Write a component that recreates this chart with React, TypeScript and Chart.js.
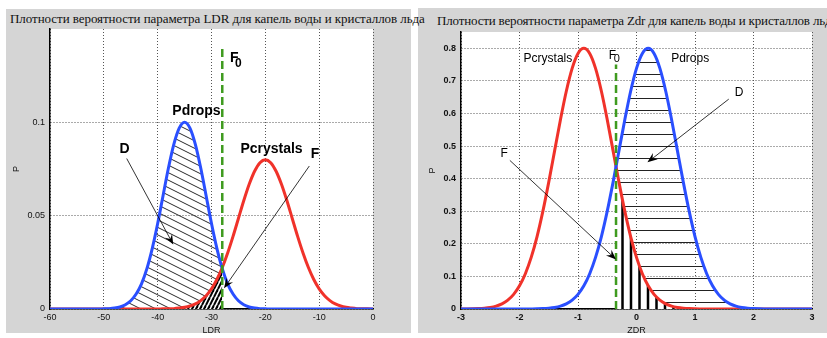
import React, { useEffect, useRef } from "react";
import { Chart, registerables } from "chart.js";

Chart.register(...registerables);

// ---------- LDR panel data ----------
const ldrX = [
  -60, -59, -58, -57, -56, -55, -54, -53, -52, -51,
  -50, -49, -48, -47, -46, -45, -44, -43, -42, -41,
  -40, -39, -38, -37, -36, -35, -34, -33, -32, -31,
  -30, -29, -28, -27, -26, -25, -24, -23, -22, -21,
  -20, -19, -18, -17, -16, -15, -14, -13, -12, -11,
  -10, -9, -8, -7, -6, -5, -4, -3, -2, -1, 0,
];
const ldrDrops = [
  0, 0, 0, 0, 0, 0, 0, 0, 0, 0,
  0.0001, 0.0002, 0.0005, 0.0011, 0.0023, 0.0044, 0.008, 0.0135, 0.0216, 0.0325,
  0.0458, 0.0607, 0.0755, 0.0882, 0.0969, 0.1, 0.0969, 0.0882, 0.0755, 0.0607,
  0.0458, 0.0325, 0.0216, 0.0135, 0.008, 0.0044, 0.0023, 0.0011, 0.0005, 0.0002,
  0.0001, 0, 0, 0, 0, 0, 0, 0, 0, 0,
  0, 0, 0, 0, 0, 0, 0, 0, 0, 0, 0,
];
const ldrCrystals = [
  0, 0, 0, 0, 0, 0, 0, 0, 0, 0,
  0, 0, 0, 0, 0, 0, 0, 0, 0, 0,
  0, 0.0001, 0.0001, 0.0002, 0.0005, 0.0009, 0.0016, 0.0027, 0.0045, 0.0071,
  0.0108, 0.0158, 0.0222, 0.03, 0.0389, 0.0485, 0.0581, 0.0668, 0.0738, 0.0784,
  0.08, 0.0784, 0.0738, 0.0668, 0.0581, 0.0485, 0.0389, 0.03, 0.0222, 0.0158,
  0.0108, 0.0071, 0.0045, 0.0027, 0.0016, 0.0009, 0.0005, 0.0002, 0.0001, 0.0001, 0,
];
const ldrF0 = -28;
const ldrF0Top = 0.1405;
const ldrXTicks = [-60, -50, -40, -30, -20, -10, 0];
const ldrYTicks = [0, 0.05, 0.1];

// ---------- ZDR panel data ----------
const zdrX = [
  -3, -2.9, -2.8, -2.7, -2.6, -2.5, -2.4, -2.3, -2.2, -2.1,
  -2, -1.9, -1.8, -1.7, -1.6, -1.5, -1.4, -1.3, -1.2, -1.1,
  -1, -0.9, -0.8, -0.7, -0.6, -0.5, -0.4, -0.35, -0.3, -0.2, -0.1,
  0, 0.1, 0.2, 0.3, 0.4, 0.5, 0.6, 0.7, 0.8, 0.9,
  1, 1.1, 1.2, 1.3, 1.4, 1.5, 1.6, 1.7, 1.8, 1.9,
  2, 2.1, 2.2, 2.3, 2.4, 2.5, 2.6, 2.7, 2.8, 2.9, 3,
];
const zdrCrystals = [
  0.0001, 0.0003, 0.0006, 0.0012, 0.0025, 0.0048, 0.0089, 0.0159, 0.0272, 0.0449,
  0.0711, 0.1083, 0.1583, 0.2224, 0.3003, 0.3894, 0.4852, 0.5809, 0.6683, 0.7385,
  0.7842, 0.8, 0.7842, 0.7385, 0.6683, 0.5809, 0.4852, 0.4369, 0.3894, 0.3003, 0.2224,
  0.1583, 0.1083, 0.0711, 0.0449, 0.0272, 0.0159, 0.0089, 0.0048, 0.0025, 0.0012,
  0.0006, 0.0003, 0.0001, 0, 0, 0, 0, 0, 0, 0,
  0, 0, 0, 0, 0, 0, 0, 0, 0, 0, 0,
];
const zdrDrops = [
  0, 0, 0, 0, 0, 0, 0, 0, 0, 0,
  0, 0.0001, 0.0003, 0.0006, 0.0012, 0.0025, 0.0048, 0.0089, 0.0159, 0.0272,
  0.0449, 0.0711, 0.1083, 0.1583, 0.2224, 0.3003, 0.3894, 0.4369, 0.4852, 0.5809, 0.6683,
  0.7385, 0.7842, 0.8, 0.7842, 0.7385, 0.6683, 0.5809, 0.4852, 0.3894, 0.3003,
  0.2224, 0.1583, 0.1083, 0.0711, 0.0449, 0.0272, 0.0159, 0.0089, 0.0048, 0.0025,
  0.0012, 0.0006, 0.0003, 0.0001, 0, 0, 0, 0, 0, 0, 0,
];
const zdrF0 = -0.35;
const zdrF0Top = 0.75;
const zdrXTicks = [-3, -2, -1, 0, 1, 2, 3];
const zdrYTicks = [0, 0.1, 0.2, 0.3, 0.4, 0.5, 0.6, 0.7, 0.8];

// ---------- styles ----------
const SANS = '"Liberation Sans", Arial, Helvetica, sans-serif';
const SERIF = '"Liberation Serif", "Times New Roman", serif';
const GRAY = "#d5d5d5";
const BLUE = "#2a4fff";
const RED = "#f0322a";
const GREEN = "#3f9b1f";

type Txt = { t: string; x: number; y: number; font: string; align?: CanvasTextAlign; base?: CanvasTextBaseline };
type Arw = { x1: number; y1: number; x2: number; y2: number };
type Spec = { texts: Txt[]; arrows: Arw[]; xTitle: string; yTitle: string; yTitleOff: number; xTitleOff: number };

function pts(xs: number[], ys: number[], keep?: (x: number) => boolean) {
  return xs.map((x, i) => ({ x, y: ys[i] })).filter((p) => !keep || keep(p.x));
}

function tile(w: number, h: number, bg: string | null, draw: (g: CanvasRenderingContext2D) => void) {
  const c = document.createElement("canvas");
  c.width = w;
  c.height = h;
  const g = c.getContext("2d")!;
  if (bg) {
    g.fillStyle = bg;
    g.fillRect(0, 0, w, h);
  }
  draw(g);
  return c;
}

function pattern(ctx: CanvasRenderingContext2D, t: HTMLCanvasElement, dx = 0, dy = 0) {
  const p = ctx.createPattern(t, "repeat")!;
  if ((dx || dy) && (p as any).setTransform) p.setTransform(new DOMMatrix().translate(dx, dy));
  return p;
}

function annotate(spec: Spec) {
  return {
    id: "ann",
    beforeDraw(chart: any) {
      const { ctx, chartArea: a } = chart;
      ctx.save();
      ctx.fillStyle = "#fff";
      ctx.fillRect(a.left, a.top, a.right - a.left, a.bottom - a.top);
      ctx.restore();
    },
    afterDatasetsDraw(chart: any) {
      const { ctx, chartArea: a } = chart;
      const xs = chart.scales.x;
      const ys = chart.scales.y;
      ctx.save();
      ctx.fillStyle = "#000";
      ctx.strokeStyle = "#000";
      for (const r of spec.arrows) {
        const x1 = xs.getPixelForValue(r.x1), y1 = ys.getPixelForValue(r.y1);
        const x2 = xs.getPixelForValue(r.x2), y2 = ys.getPixelForValue(r.y2);
        const ang = Math.atan2(y2 - y1, x2 - x1);
        const ux = Math.cos(ang), uy = Math.sin(ang);
        ctx.lineWidth = 0.8;
        ctx.beginPath();
        ctx.moveTo(x1, y1);
        ctx.lineTo(x2 - ux * 6, y2 - uy * 6);
        ctx.stroke();
        const L = 10, W = 4, N = 6.5;
        ctx.beginPath();
        ctx.moveTo(x2, y2);
        ctx.lineTo(x2 - ux * L - uy * W, y2 - uy * L + ux * W);
        ctx.lineTo(x2 - ux * N, y2 - uy * N);
        ctx.lineTo(x2 - ux * L + uy * W, y2 - uy * L - ux * W);
        ctx.closePath();
        ctx.fill();
      }
      for (const t of spec.texts) {
        ctx.font = t.font;
        ctx.textAlign = t.align || "center";
        ctx.textBaseline = t.base || "middle";
        ctx.fillText(t.t, xs.getPixelForValue(t.x), ys.getPixelForValue(t.y));
      }
      ctx.font = `9px ${SANS}`;
      ctx.fillStyle = "#111";
      ctx.textAlign = "center";
      ctx.textBaseline = "middle";
      ctx.fillText(spec.xTitle, (a.left + a.right) / 2, a.bottom + spec.xTitleOff);
      ctx.translate(a.left - spec.yTitleOff, (a.top + a.bottom) / 2);
      ctx.rotate(-Math.PI / 2);
      ctx.fillText(spec.yTitle, 0, 0);
      ctx.restore();
    },
  };
}

function axes(xmin: number, xmax: number, xt: number[], ymax: number, yt: number[], yw: number, bold: boolean) {
  const tickFont = { family: SANS, size: 9, weight: bold ? "bold" : "normal" } as any;
  const grid = { color: "#555", lineWidth: 1, drawTicks: false };
  const border = { display: true, color: "#000", width: 1.5, dash: [1, 2] };
  return {
    x: {
      type: "linear",
      min: xmin,
      max: xmax,
      afterBuildTicks: (s: any) => {
        s.ticks = xt.map((v) => ({ value: v }));
      },
      afterFit: (s: any) => {
        s.height = 29;
      },
      grid,
      border,
      ticks: { padding: 3, color: "#111", font: tickFont, maxRotation: 0, autoSkip: false, callback: (v: any) => String(v) },
    },
    y: {
      type: "linear",
      min: 0,
      max: ymax,
      afterBuildTicks: (s: any) => {
        s.ticks = yt.map((v) => ({ value: v }));
      },
      afterFit: (s: any) => {
        s.width = yw;
      },
      grid,
      border,
      ticks: { padding: 5, color: "#111", font: tickFont, autoSkip: false, callback: (v: any) => String(v) },
    },
  };
}

function curve(label: string, data: any[], color: string, order: number) {
  return {
    label,
    data,
    borderColor: color,
    borderWidth: 3,
    pointRadius: 0,
    fill: false,
    cubicInterpolationMode: "monotone",
    order,
  };
}

function region(label: string, data: any[], bg: any, order: number) {
  return {
    label,
    data,
    borderColor: "rgba(0,0,0,0)",
    borderWidth: 1,
    backgroundColor: bg,
    pointRadius: 0,
    fill: "origin",
    cubicInterpolationMode: "monotone",
    order,
  };
}

function green(x: number, top: number) {
  return {
    label: "F0",
    data: [
      { x, y: 0 },
      { x, y: top },
    ],
    borderColor: GREEN,
    borderWidth: 2.5,
    borderDash: [8, 4],
    pointRadius: 0,
    fill: false,
    order: 1,
  };
}

function buildLdr(canvas: HTMLCanvasElement) {
  const ctx = canvas.getContext("2d")!;
  const diag = tile(30, 15, null, (g) => {
    g.strokeStyle = "#111";
    g.lineWidth = 0.9;
    for (const c of [-15, -7.5, 0, 7.5, 15]) {
      g.beginPath();
      g.moveTo(-10, -5 + c);
      g.lineTo(40, 20 + c);
      g.stroke();
    }
  });
  const dense = tile(4, 8, "#fff", (g) => {
    g.strokeStyle = "#000";
    g.lineWidth = 2;
    for (const x0 of [-4, 0, 4]) {
      g.beginPath();
      g.moveTo(x0, 8);
      g.lineTo(x0 + 4, 0);
      g.stroke();
    }
  });
  const spec: Spec = {
    texts: [
      { t: "Pdrops", x: -32.8, y: 0.1058, font: `bold 14px ${SANS}` },
      { t: "Pcrystals", x: -18.85, y: 0.0856, font: `bold 14px ${SANS}` },
      { t: "D", x: -46.16, y: 0.0859, font: `bold 14px ${SANS}` },
      { t: "F", x: -10.77, y: 0.0829, font: `bold 14px ${SANS}` },
      { t: "F", x: -26.56, y: 0.1323, font: `bold 14px ${SANS}`, align: "left", base: "alphabetic" },
      { t: "0", x: -25.63, y: 0.1298, font: `bold 12px ${SANS}`, align: "left", base: "alphabetic" },
    ],
    arrows: [
      { x1: -45.75, y1: 0.0806, x2: -37.1, y2: 0.0345 },
      { x1: -11.83, y1: 0.0766, x2: -27.68, y2: 0.0111 },
    ],
    xTitle: "LDR",
    yTitle: "P",
    xTitleOff: 21.5,
    yTitleOff: 33,
  };
  return new Chart(canvas, {
    type: "line",
    data: {
      datasets: [
        region("D", pts(ldrX, ldrDrops, (x) => x <= ldrF0), pattern(ctx, diag), 10),
        region("F", pts(ldrX, ldrCrystals, (x) => x <= ldrF0), pattern(ctx, dense), 9),
        curve("Pcrystals", pts(ldrX, ldrCrystals), RED, 3),
        curve("Pdrops", pts(ldrX, ldrDrops), BLUE, 2),
        green(ldrF0, ldrF0Top),
      ] as any,
    },
    options: {
      animation: false,
      responsive: false,
      devicePixelRatio: 1,
      layout: { padding: { left: 0, top: 20, right: 38, bottom: 0 } },
      plugins: { legend: { display: false }, tooltip: { enabled: false }, title: { display: false } },
      scales: axes(-60, 0, ldrXTicks, 0.15, ldrYTicks, 44, false) as any,
    },
    plugins: [annotate(spec) as any],
  });
}

function buildZdr(canvas: HTMLCanvasElement) {
  const ctx = canvas.getContext("2d")!;
  const horiz = tile(4, 12, null, (g) => {
    g.fillStyle = "#222";
    g.fillRect(0, 6, 4, 1);
  });
  const vert = tile(17, 4, "#fff", (g) => {
    g.fillStyle = "#000";
    g.fillRect(0, 0, 1.75, 4);
    g.fillRect(7.75, 0, 2.5, 4);
    g.fillRect(16.25, 0, 0.75, 4);
  });
  const spec: Spec = {
    texts: [
      { t: "Pcrystals", x: -1.514, y: 0.767, font: `12px ${SANS}` },
      { t: "Pdrops", x: 0.918, y: 0.768, font: `12px ${SANS}` },
      { t: "D", x: 1.755, y: 0.664, font: `12px ${SANS}` },
      { t: "F", x: -2.26, y: 0.477, font: `12px ${SANS}` },
      { t: "F", x: -0.476, y: 0.7667, font: `12px ${SANS}`, align: "left", base: "alphabetic" },
      { t: "0", x: -0.391, y: 0.7593, font: `11px ${SANS}`, align: "left", base: "alphabetic" },
    ],
    arrows: [
      { x1: 1.577, y1: 0.644, x2: 0.187, y2: 0.45 },
      { x1: -2.165, y1: 0.456, x2: -0.35, y2: 0.152 },
    ],
    xTitle: "ZDR",
    yTitle: "P",
    xTitleOff: 22,
    yTitleOff: 28,
  };
  return new Chart(canvas, {
    type: "line",
    data: {
      datasets: [
        region("D", pts(zdrX, zdrDrops, (x) => x >= zdrF0), pattern(ctx, horiz), 10),
        region("F", pts(zdrX, zdrCrystals, (x) => x >= zdrF0), pattern(ctx, vert), 9),
        curve("Pcrystals", pts(zdrX, zdrCrystals), RED, 3),
        curve("Pdrops", pts(zdrX, zdrDrops), BLUE, 2),
        green(zdrF0, zdrF0Top),
      ] as any,
    },
    options: {
      animation: false,
      responsive: false,
      devicePixelRatio: 1,
      layout: { padding: { left: 0, top: 24, right: 15, bottom: 0 } },
      plugins: { legend: { display: false }, tooltip: { enabled: false }, title: { display: false } },
      scales: axes(-3, 3, zdrXTicks, 0.85, zdrYTicks, 43, true) as any,
    },
    plugins: [annotate(spec) as any],
  });
}

function Plot(props: { build: (c: HTMLCanvasElement) => Chart; left: number; top: number; width: number; height: number }) {
  const ref = useRef<HTMLCanvasElement>(null);
  useEffect(() => {
    const chart = props.build(ref.current!);
    return () => chart.destroy();
  }, []);
  return (
    <canvas
      ref={ref}
      width={props.width}
      height={props.height}
      style={{ position: "absolute", left: props.left, top: props.top, width: props.width, height: props.height }}
    />
  );
}

const titleStyle = (left: number, top: number, spacing: number): React.CSSProperties => ({
  position: "absolute",
  left,
  top,
  fontFamily: SERIF,
  fontSize: 13,
  lineHeight: "13px",
  letterSpacing: spacing,
  whiteSpace: "nowrap",
  color: "#111",
});

export default function App() {
  return (
    <div style={{ position: "fixed", left: 0, top: 0, width: 827, height: 338, overflow: "hidden", background: "#fff" }}>
      <div style={{ position: "absolute", left: 6, top: 9, width: 405, height: 324, background: GRAY }} />
      <div style={{ position: "absolute", left: 418, top: 8, width: 409, height: 325, background: GRAY }} />
      <div style={titleStyle(10, 12, -0.06)}>Плотности вероятности параметра LDR для капель воды и кристаллов льда</div>
      <div style={titleStyle(437, 14, -0.17)}>Плотности вероятности параметра Zdr для капель воды и кристаллов льда</div>
      <Plot build={buildLdr} left={6} top={9} width={405} height={329} />
      <Plot build={buildZdr} left={418} top={8} width={409} height={330} />
    </div>
  );
}
